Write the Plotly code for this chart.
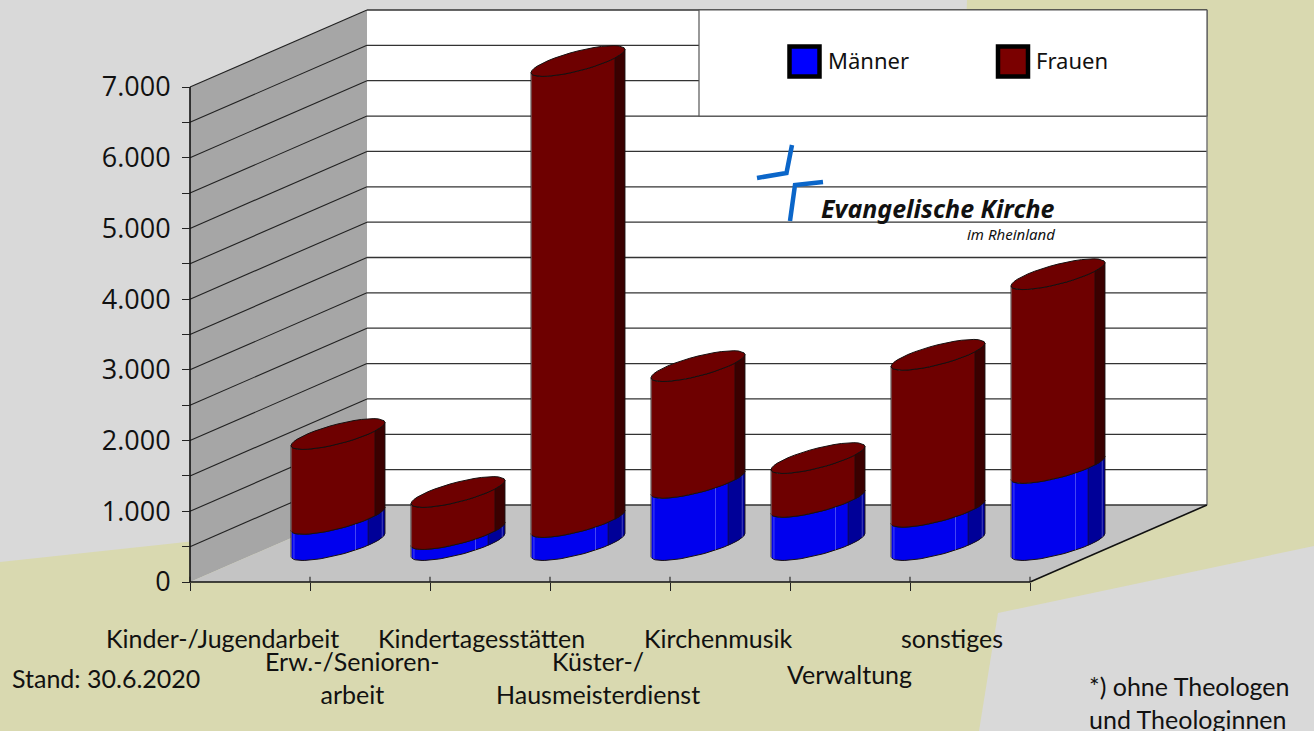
import math
import plotly.graph_objects as go

# ---- data ----
categories = ["Kinder-/Jugendarbeit", "Erw.-/Senioren-<br>arbeit", "Kindertagesstätten",
              "Küster-/<br>Hausmeisterdienst", "Kirchenmusik", "Verwaltung", "sonstiges"]
maenner = [370, 155, 325, 880, 610, 470, 1090]
frauen = [1200, 595, 6520, 1650, 620, 2220, 2740]
y_ticks = [0, 1000, 2000, 3000, 4000, 5000, 6000, 7000]
y_labels = ["0", "1.000", "2.000", "3.000", "4.000", "5.000", "6.000", "7.000"]

# ---- chart geometry (oblique projection) ----
W, H = 1314, 731
PX_SLOT = 120.0
PX_VAL = 495 / 7000
X0, Y0 = 190, 582
N = len(categories)
SHEAR_X, SHEAR_Y = 177 / PX_SLOT, 77 / PX_VAL


def proj(slot, depth, value):
    return slot + depth * SHEAR_X, value + depth * SHEAR_Y


def xa(px):
    return (px - X0) / PX_SLOT


def ya(py):
    return (Y0 - py) / PX_VAL


def poly(points, **kw):
    path = "M " + " L ".join(f"{x:.4f} {y:.3f}" for x, y in points) + " Z"
    return dict(type="path", path=path, xref="x", yref="y", layer="below", **kw)


def seg(p, q, color="#222", width=1.2):
    return dict(type="line", x0=p[0], y0=p[1], x1=q[0], y1=q[1], xref="x", yref="y",
                layer="below", line=dict(color=color, width=width))


def pxpoly(pts, color):
    return poly([(xa(a), ya(b)) for a, b in pts], fillcolor=color, line=dict(width=0))


shapes = [
    pxpoly([(0, 0), (967, 0), (950, 460), (0, 562)], "#d9d9d9"),
    pxpoly([(1314, 546), (998, 613), (979, 731), (1314, 731)], "#d9d9d9"),
]
# walls and floor
shapes.append(poly([proj(0, 0, 0), proj(0, 1, 0), proj(0, 1, 7000), proj(0, 0, 7000)],
                   fillcolor="#a6a6a6", line=dict(width=0)))
shapes.append(poly([proj(0, 1, 0), proj(N, 1, 0), proj(N, 1, 7000), proj(0, 1, 7000)],
                   fillcolor="#ffffff", line=dict(width=0)))
shapes.append(poly([proj(0, 0, 0), proj(N, 0, 0), proj(N, 1, 0), proj(0, 1, 0)],
                   fillcolor="#c4c4c4", line=dict(width=0)))
for k in range(0, 15):
    v = k * 500
    shapes.append(seg(proj(0, 1, v), proj(N, 1, v), "#333", 1.3))
    if k > 0:
        shapes.append(seg(proj(0, 0, v), proj(0, 1, v), "#222", 1.1))
shapes.append(seg(proj(N, 1, 0), proj(N, 1, 7000), "#777", 1.5))
shapes.append(seg(proj(N, 0, 0), proj(N, 1, 0), "#111", 1.6))
shapes.append(seg(proj(0, 0, 0), proj(N, 0, 0), "#111", 1.6))
shapes.append(seg(proj(0, 0, 0), proj(0, 0, 7000), "#111", 1.6))
for i in range(N + 1):
    shapes.append(seg(proj(i, 0, 0), proj(i, 0, 75), "#222", 1.1))

# legend panel
shapes.append(poly([(xa(699), ya(10)), (xa(1207), ya(10)), (xa(1207), ya(116)), (xa(699), ya(116))],
                   fillcolor="#ffffff", line=dict(color="#555", width=1.2)))
# logo
logo_blue = "#0b66c9"
for pts in ([(792, 145), (786.5, 173), (757, 178)], [(790, 221), (795, 185), (823, 182)]):
    path = "M " + " L ".join(f"{xa(a):.4f} {ya(b):.2f}" for a, b in pts)
    shapes.append(dict(type="path", path=path, xref="x", yref="y", layer="below",
                       line=dict(color=logo_blue, width=4.5)))

# ---- cylinders ----
R_SLOT = 30.7 / PX_SLOT
R_DEPTH = 0.2
CENTER_DEPTH = 0.48
SLOT_OFFSET = 0.525
T_EDGE = math.atan2(R_DEPTH * SHEAR_X, R_SLOT)  # right silhouette angle


def rim(i, value, t):
    return proj(i + SLOT_OFFSET + R_SLOT * math.cos(t), CENTER_DEPTH + R_DEPTH * math.sin(t), value)


def arc(i, value, a0, a1, n=36):
    return [rim(i, value, T_EDGE - (a0 + (a1 - a0) * j / n)) for j in range(n + 1)]


def band(i, v0, v1, a0, a1):
    return arc(i, v0, a0, a1) + arc(i, v1, a1, a0)


def collect(polys, close=True):
    xs, ys = [], []
    for p in polys:
        pts = p + [p[0]] if close else p
        xs += [q[0] for q in pts] + [None]
        ys += [q[1] for q in pts] + [None]
    return xs, ys


def area(polys, color, name, line="#1a1010", lw=1.0):
    xs, ys = collect(polys)
    return go.Scatter(x=xs, y=ys, mode="lines", fill="toself", fillcolor=color, name=name,
                      line=dict(color=line, width=lw), hoverinfo="skip", showlegend=False)


def facets(phis, lows, highs, color):
    polys = []
    for i in range(N):
        for ph in phis:
            polys.append([rim(i, lows[i], T_EDGE - ph), rim(i, highs[i], T_EDGE - ph)])
    xs, ys = collect(polys, close=False)
    return go.Scatter(x=xs, y=ys, mode="lines", line=dict(color=color, width=0.8),
                      hoverinfo="skip", showlegend=False)


tops = [m + f for m, f in zip(maenner, frauen)]
zeros = [0] * N
PI = math.pi
traces = [
    area([band(i, 0, maenner[i], 0, PI) for i in range(N)], "#0000ee", "Männer"),
    area([band(i, 0, maenner[i], 0, math.radians(50)) for i in range(N)], "#000098", "Männer Schatten", lw=0.6),
    facets([math.radians(a) for a in (19, 68, 160, 172)], zeros, maenner, "rgba(190,190,255,0.45)"),
    area([band(i, maenner[i], tops[i], 0, PI) for i in range(N)], "#6e0000", "Frauen"),
    area([band(i, maenner[i], tops[i], 0, math.radians(38)) for i in range(N)], "#3a0000", "Frauen Schatten", lw=0.6),
    facets([math.radians(172)], maenner, tops, "rgba(200,150,150,0.5)"),
    area([arc(i, tops[i], 0, 2 * PI) for i in range(N)], "#6e0000", "Frauen Deckel", line="#161010"),
]

# legend swatches
for px, color, label in ((804.5, "#0000ff", "Männer"), (1013, "#7a0000", "Frauen")):
    traces.append(go.Scatter(x=[xa(px)], y=[ya(61.5)], mode="markers", name=label,
                             marker=dict(symbol="square", size=30, color=color,
                                         line=dict(color="#000", width=4.5)),
                             hoverinfo="skip", showlegend=False))


# ---- texts ----
def note(px, py, text, size, family="Lato", anchor="center", **kw):
    return dict(x=px / W, y=1 - py / H, xref="paper", yref="paper", text=text, showarrow=False,
                xanchor=anchor, yanchor="middle", align=anchor,
                font=dict(family=family, size=size, color="#111", **kw))


label_pos = [(222, 638), (352, 677), (481, 638), (598, 677), (718, 638), (849, 674), (952, 638)]
annotations = [note(px, py, c, 25) for (px, py), c in zip(label_pos, categories)]
annotations += [
    note(10, 678, "Stand: 30.6.2020", 25, anchor="left"),
    note(1087, 702, "*) ohne Theologen<br>und Theologinnen", 25, anchor="left"),
    note(826, 60, "Männer", 22, family="Noto Sans", anchor="left"),
    note(1034, 60, "Frauen", 22, family="Noto Sans", anchor="left"),
    note(1057, 208, "<b><i>Evangelische Kirche</i></b>", 25, family="Noto Sans", anchor="right"),
    note(1057, 234, "<i>im Rheinland</i>", 15, family="Noto Sans", anchor="right"),
]

minor_vals = [k * 500 for k in range(15)]
minor_text = [y_labels[y_ticks.index(v)] if v in y_ticks else "" for v in minor_vals]

fig = go.Figure(traces)
fig.update_layout(
    width=W, height=H, margin=dict(l=0, r=0, t=0, b=0), autosize=False,
    paper_bgcolor="#d9d9b0", plot_bgcolor="rgba(0,0,0,0)", showlegend=False,
    shapes=shapes, annotations=annotations, hovermode=False,
    xaxis=dict(range=[xa(0), xa(W)], anchor="free", position=(H - Y0) / H, showgrid=False, zeroline=False,
               showline=False, tickmode="array", tickvals=list(range(N + 1)), ticktext=[""] * (N + 1),
               ticks="outside", ticklen=8, tickcolor="#222", tickwidth=1.1, fixedrange=True),
    yaxis=dict(range=[ya(H), ya(0)], anchor="free", position=X0 / W, showgrid=False, zeroline=False,
               showline=False, tickmode="array", tickvals=minor_vals, ticktext=minor_text,
               ticks="outside", ticklen=8, tickcolor="#222", tickwidth=1.1, ticklabelstandoff=6,
               tickfont=dict(family="Open Sans", size=27, color="#111"), fixedrange=True),
)
fig.write_html("out.html", post_script="document.body.style.margin='0';", config={"displayModeBar": False})
